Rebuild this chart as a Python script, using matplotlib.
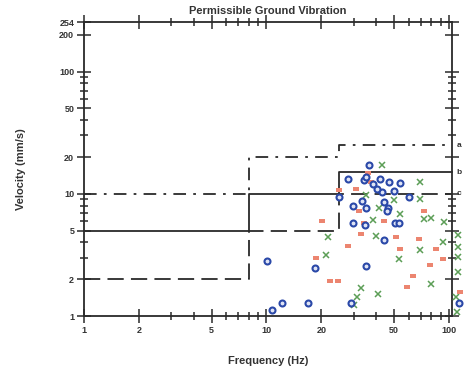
import matplotlib
matplotlib.use("Agg")
import matplotlib.pyplot as plt
from matplotlib.ticker import FixedLocator, FixedFormatter, LogLocator, NullFormatter

plt.rcParams['font.family'] = ['Liberation Sans', 'DejaVu Sans']

# Permissible limits (mm/s) over frequency bands (Hz)
band_edges = [1, 8, 25, 104]
limit_a = [10, 20, 25]
limit_b = [5, 10, 15]
limit_c = [2, 5, 10]

# Measured data
blue_f = [36.5, 28.0, 34.3, 35.0, 41.8, 47.0, 54.0, 49.7, 43.2, 25.0, 33.3, 29.6, 35.0, 44.1,
          46.4, 45.5, 60.5, 29.6, 34.6, 50.5, 53.4, 43.8, 10.1, 18.4, 35.0, 10.7, 12.2, 16.9,
          29.2, 114, 38.5, 40.5]
blue_v = [17.3, 13.2, 12.9, 13.7, 13.2, 12.4, 12.3, 10.6, 10.4, 9.4, 8.8, 8.0, 7.7, 8.5,
          7.6, 7.3, 9.4, 5.75, 5.57, 5.75, 5.75, 4.2, 2.84, 2.46, 2.57, 1.13, 1.27, 1.27,
          1.27, 1.28, 12.0, 11.0]
red_f = [25.0, 30.8, 37.3, 35.8, 32.2, 20.2, 44.1, 33.1, 28.0, 51.2, 54.0, 68.7, 72.6, 84.9,
         78.9, 63.1, 58.8, 18.6, 22.3, 24.6, 92.7, 115, 34.3]
red_v = [10.8, 10.9, 12.6, 14.8, 7.2, 6.0, 6.0, 4.7, 3.75, 4.4, 3.52, 4.25, 7.3, 3.52,
         2.62, 2.13, 1.74, 2.97, 1.95, 1.95, 2.95, 1.58, 5.75]
green_f = [43.2, 69.6, 69.6, 50.0, 41.4, 54.0, 38.1, 73.2, 79.9, 94.2, 21.6, 39.7, 69.6, 92.3,
           53.4, 21.1, 79.9, 40.9, 32.9, 31.5, 30.2, 111.6, 111.6, 111.6, 111.6, 109, 110, 35.0]
green_v = [17.3, 12.4, 9.0, 8.9, 7.6, 6.86, 6.12, 6.2, 6.3, 5.93, 4.4, 4.53, 3.48, 4.06,
           2.92, 3.16, 1.83, 1.53, 1.69, 1.44, 1.23, 4.61, 3.7, 3.06, 2.31, 1.44, 1.08, 9.8]

x_ticks = [1, 2, 5, 10, 20, 50, 100]
y_ticks = [1, 2, 5, 10, 20, 50, 100, 200, 254]

fig = plt.figure(figsize=(4.69, 3.71), dpi=100)
ax = fig.add_axes([0.179, 0.148, 0.785, 0.7925])
ax.set_xscale('log')
ax.set_yscale('log')
ax.set_xlim(1, 104)
ax.set_ylim(1, 254)

lc = '#2a2a2a'
ax.step(band_edges, limit_a + [limit_a[-1]], where='post', color=lc, lw=1.3,
        dashes=[7, 4, 1.5, 4], clip_on=False)
ax.step(band_edges, limit_b + [limit_b[-1]], where='post', color=lc, lw=1.3, clip_on=False)
ax.step(band_edges, limit_c + [limit_c[-1]], where='post', color=lc, lw=1.3,
        dashes=[9, 4], clip_on=False)

dash_marker = [(-1, -0.55), (1, -0.55), (1, 0.55), (-1, 0.55), (-1, -0.55)]
ax.plot(green_f, green_v, 'x', color='#5c9e56', ms=4.5, mew=1.1, clip_on=False, zorder=3)
ax.plot(red_f, red_v, linestyle='none', marker=dash_marker, color='#ec8570', ms=4.5, mew=0,
        clip_on=False, zorder=3)
ax.plot(blue_f, blue_v, 'o', mfc='#dfe4f5', mec='#2a48a8', ms=4.3, mew=1.5, clip_on=False, zorder=4)

for lab, yv in zip(['a', 'b', 'c'], [limit_a[-1], limit_b[-1], limit_c[-1]]):
    ax.text(1.012, yv, lab, transform=ax.get_yaxis_transform(), fontsize=6,
            fontweight='bold', color='#333333', va='center', ha='left')

ax.xaxis.set_major_locator(FixedLocator(x_ticks))
ax.xaxis.set_major_formatter(FixedFormatter([str(t) for t in x_ticks]))
ax.xaxis.set_minor_locator(LogLocator(base=10, subs=[3, 4, 6, 7, 8, 9]))
ax.xaxis.set_minor_formatter(NullFormatter())
ax.yaxis.set_major_locator(FixedLocator(y_ticks))
ax.yaxis.set_major_formatter(FixedFormatter([str(t) for t in y_ticks]))
ax.yaxis.set_minor_locator(LogLocator(base=10, subs=[3, 4, 6, 7, 8, 9]))
ax.yaxis.set_minor_formatter(NullFormatter())

ax.tick_params(which='both', direction='inout', top=True, right=True, color=lc, width=1.1,
               labelsize=6.5, pad=2, labelcolor='#333333')
ax.tick_params(which='major', length=10)
ax.tick_params(which='minor', length=6)
for lbl in ax.get_xticklabels() + ax.get_yticklabels():
    lbl.set_fontweight('bold')
for s in ax.spines.values():
    s.set_color(lc)
    s.set_linewidth(1.3)

ax.set_title('Permissible Ground Vibration', fontsize=8, fontweight='bold', color='#333333', pad=6)
ax.set_xlabel('Frequency (Hz)', fontsize=8, fontweight='bold', color='#333333', labelpad=15)
ax.set_ylabel('Velocity (mm/s)', fontsize=8, fontweight='bold', color='#333333', labelpad=24)

fig.savefig('out.png', dpi=100)
